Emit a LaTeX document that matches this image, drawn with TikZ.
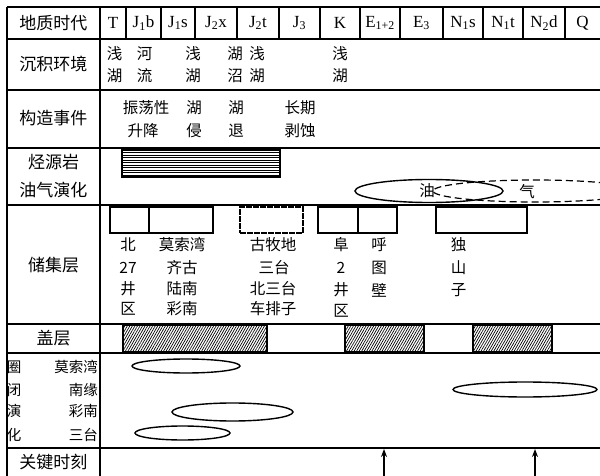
\documentclass[tikz,border=0pt]{standalone}
\usepackage{fontspec}
\setmainfont{Liberation Serif}
\newfontfamily\cjk{Noto Sans CJK SC}
\usetikzlibrary{patterns.meta,arrows.meta,shapes.geometric}
\begin{document}
\begin{tikzpicture}[x=1pt,y=-1pt,
  grid/.style={line width=1.3pt},
  bold/.style={line width=1.8pt},
  hdr/.style={font=\fontsize{17}{17}\selectfont, inner sep=0pt},
  lab/.style={font=\cjk\fontsize{17}{17}\selectfont, inner sep=0pt},
  txt/.style={font=\cjk\fontsize{15.5}{15.5}\selectfont, inner sep=0pt},
  small/.style={font=\cjk\fontsize{14.5}{14.5}\selectfont, inner sep=0pt},
  resbox/.style={draw, line width=1.4pt, minimum height=26pt, inner sep=0pt},
  capbox/.style={draw, line width=1.6pt, minimum height=27pt, inner sep=0pt,
     pattern={Lines[angle=60,distance=2.2pt,line width=0.7pt]}},
  trap/.style={draw, ellipse, line width=1.4pt, inner sep=0pt},
  keyarrow/.style={line width=1.6pt, -{Stealth[length=8pt,width=6pt]}}
]
\clip (0,0) rectangle (600,476);
\fill[white] (0,0) rectangle (600,476);
% grid
\foreach \y in {7,39,90,148,205,324,353} \draw[grid] (7,\y) -- (600,\y);
\draw[bold] (7,448) -- (600,448);
\draw[grid] (7,7) -- (7,476);
\draw[grid] (100,7) -- (100,476);
\foreach \x in {126,161,195,237,279,320,360,400,443,483,523,565} \draw[grid] (\x,7) -- (\x,39);
% header
\node[lab] (lh) at (53.5,23) {地质时代};
\node[hdr] (c1) at (113,23) {T};
\node[hdr] (c2) at (143.5,23) {J\textsubscript{1}b};
\node[hdr] (c3) at (178,23) {J\textsubscript{1}s};
\node[hdr] (c4) at (216,23) {J\textsubscript{2}x};
\node[hdr] (c5) at (258,23) {J\textsubscript{2}t};
\node[hdr] (c6) at (299.5,23) {J\textsubscript{3}};
\node[hdr] (c7) at (340,23) {K};
\node[hdr] (c8) at (380,23) {E\textsubscript{1+2}};
\node[hdr] (c9) at (421.5,23) {E\textsubscript{3}};
\node[hdr] (c10) at (463,23) {N\textsubscript{1}s};
\node[hdr] (c11) at (503,23) {N\textsubscript{1}t};
\node[hdr] (c12) at (544,23) {N\textsubscript{2}d};
\node[hdr] (c13) at (582.5,23) {Q};
% sedimentary environment
\node[lab] (l2) at (53.5,64) {沉积环境};
\node[txt] (s1a) at (114.5,54) {浅}; \node[txt] (s1b) at (114.5,76) {湖};
\node[txt] (s2a) at (144.5,54) {河}; \node[txt] (s2b) at (144.5,76) {流};
\node[txt] (s3a) at (193,54) {浅}; \node[txt] (s3b) at (193,76) {湖};
\node[txt] (s4a) at (235,54) {湖}; \node[txt] (s4b) at (235,76) {沼};
\node[txt] (s5a) at (257,54) {浅}; \node[txt] (s5b) at (257,76) {湖};
\node[txt] (s6a) at (340,54) {浅}; \node[txt] (s6b) at (340,76) {湖};
% tectonic events
\node[lab] (l3) at (53.5,118) {构造事件};
\node[txt] (t1a) at (146,108) {振荡性}; \node[txt] (t1b) at (143,131) {升降};
\node[txt] (t2a) at (194,108) {湖}; \node[txt] (t2b) at (194,131) {侵};
\node[txt] (t3a) at (236,108) {湖}; \node[txt] (t3b) at (236,131) {退};
\node[txt] (t4a) at (300,108) {长期}; \node[txt] (t4b) at (300,131) {剥蚀};
% source rock / evolution
\node[lab] (l4a) at (53.5,162) {烃源岩};
\node[lab] (l4b) at (53.5,190) {油气演化};
\node[draw, line width=1.5pt, minimum width=158pt, minimum height=27pt, inner sep=0pt] (src) at (201,163.5) {};
\foreach \y in {152.5,155,...,175} \draw[line width=0.8pt] (123,\y) -- (279,\y);
\node[draw, dash pattern=on 7pt off 4pt, ellipse, line width=1.2pt, minimum width=204pt, minimum height=22pt, inner sep=0pt] (gas) at (535,191) {};
\node[draw, ellipse, line width=1.4pt, minimum width=148pt, minimum height=23pt, inner sep=0pt, font=\cjk\fontsize{15.5}{15.5}\selectfont] (oil) at (429,191) {\hspace*{-4pt}油};
\node[txt] (qi) at (527,192) {气};
% reservoir
\node[lab] (l5) at (53.5,265) {储集层};
\node[resbox, minimum width=39pt] (r1) at (129.5,220) {};
\node[resbox, minimum width=64pt] (r2) at (181,220) {};
\node[resbox, minimum width=63pt, dash pattern=on 6pt off 1pt] (r3) at (271.5,220) {};
\node[resbox, minimum width=40pt] (r4) at (338,220) {};
\node[resbox, minimum width=39pt] (r5) at (377.5,220) {};
\node[resbox, minimum width=91pt] (r6) at (481.5,220) {};
\node[txt] (a1) at (128,245) {北};
\node[txt] (a2) at (128,268) {27};
\node[txt] (a3) at (128,289) {井};
\node[txt] (a4) at (128,309) {区};
\node[txt] (b1) at (182,245) {莫索湾};
\node[txt] (b2) at (182,268) {齐古};
\node[txt] (b3) at (182,289) {陆南};
\node[txt] (b4) at (182,309) {彩南};
\node[txt] (g1) at (273,245) {古牧地};
\node[txt] (g2) at (274,268) {三台};
\node[txt] (g3) at (273,289) {北三台};
\node[txt] (g4) at (273,309) {车排子};
\node[txt] (f1) at (341,245) {阜};
\node[txt] (f2) at (341,268) {2};
\node[txt] (f3) at (341,290) {井};
\node[txt] (f4) at (341,311) {区};
\node[txt] (h1) at (379,245) {呼};
\node[txt] (h2) at (379,268) {图};
\node[txt] (h3) at (379,290) {壁};
\node[txt] (d1) at (458.5,245) {独};
\node[txt] (d2) at (458.5,268) {山};
\node[txt] (d3) at (458.5,290) {子};
% cap rock
\node[lab] (l6) at (53.5,338) {盖层};
\node[capbox, minimum width=144pt] (cap1) at (195,338.5) {};
\node[capbox, minimum width=79pt] (cap2) at (384.5,338.5) {};
\node[capbox, minimum width=79pt] (cap3) at (512.5,338.5) {};
% trap evolution
\node[small] (q1) at (14,367) {圈};
\node[small] (q2) at (14,390) {闭};
\node[small] (q3) at (14,411) {演};
\node[small] (q4) at (14,435) {化};
\node[small, anchor=east] (p1) at (98,367) {莫索湾};
\node[small, anchor=east] (p2) at (98,390) {南缘};
\node[small, anchor=east] (p3) at (98,411) {彩南};
\node[small, anchor=east] (p4) at (98,435) {三台};
\node[trap, minimum width=108pt, minimum height=14pt] (e1) at (186,366) {};
\node[trap, minimum width=144pt, minimum height=15pt] (e2) at (525,389.5) {};
\node[trap, minimum width=121pt, minimum height=18pt] (e3) at (232.5,412) {};
\node[trap, minimum width=95pt, minimum height=14pt] (e4) at (182.5,433) {};
% key moments
\node[lab] (l7) at (53.5,462) {关键时刻};
\coordinate (k1s) at (384,477);
\coordinate (k1e) at (384,449);
\coordinate (k2s) at (535,477);
\coordinate (k2e) at (535,449);
\draw[keyarrow] (k1s) -- (k1e);
\draw[keyarrow] (k2s) -- (k2e);
\end{tikzpicture}
\end{document}
